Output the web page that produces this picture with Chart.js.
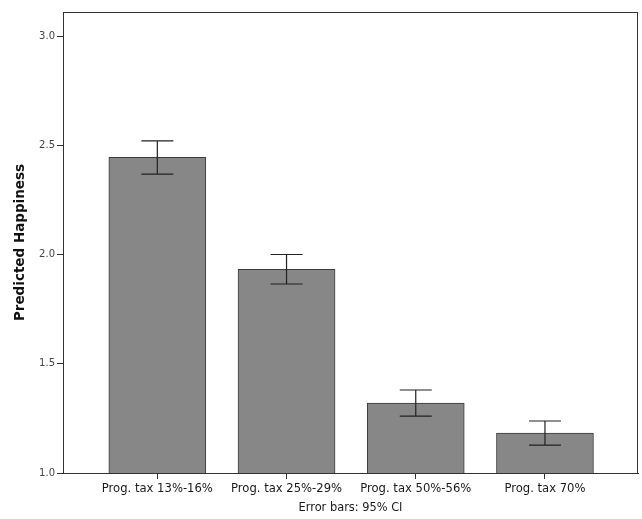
<!DOCTYPE html>
<html>
<head>
<meta charset="utf-8">
<script src="https://cdn.jsdelivr.net/npm/chart.js@4"></script>
<style>
  html, body { margin: 0; padding: 0; background: #fff; }
  #wrap { width: 642px; height: 519px; }
</style>
</head>
<body>
<div id="wrap"><canvas id="myChart" width="642" height="519"></canvas></div>
<script>
const categories = ['Prog. tax 13%-16%', 'Prog. tax 25%-29%', 'Prog. tax 50%-56%', 'Prog. tax 70%'];
const means = [2.445, 1.932, 1.32, 1.183];
const ciLow = [2.368, 1.865, 1.26, 1.128];
const ciHigh = [2.52, 2.0, 1.38, 1.238];
const yTicks = [1.0, 1.5, 2.0, 2.5, 3.0];

// frame around the plot + error bars
const extras = {
    id: 'extras',
    afterDatasetsDraw(chart) {
        const ctx = chart.ctx;
        const xs = chart.scales.x, ys = chart.scales.y;
        ctx.save();
        ctx.strokeStyle = '#222';
        ctx.lineWidth = 1.2;
        for (let i = 0; i < means.length; i++) {
            const x = xs.getPixelForValue(i);
            const y1 = ys.getPixelForValue(ciHigh[i]);
            const y2 = ys.getPixelForValue(ciLow[i]);
            ctx.beginPath();
            ctx.moveTo(x, y1); ctx.lineTo(x, y2);
            ctx.moveTo(x - 16, y1); ctx.lineTo(x + 16, y1);
            ctx.moveTo(x - 16, y2); ctx.lineTo(x + 16, y2);
            ctx.stroke();
        }
        const a = chart.chartArea;
        ctx.strokeStyle = '#333';
        ctx.lineWidth = 1;
        ctx.strokeRect(a.left + 0.5, a.top + 0.5, a.right - a.left - 1, a.bottom - a.top);
        ctx.restore();
    }
};

const ctx = document.getElementById('myChart').getContext('2d');
const myChart = new Chart(ctx, {
    type: 'bar',
    data: {
        datasets: [{
            data: means.map((v, i) => ({ x: i, y: v })),
            backgroundColor: '#878787',
            borderColor: '#3a3a3a',
            borderWidth: 1,
            barThickness: 97
        }]
    },
    options: {
        responsive: false,
        animation: false,
        layout: { padding: { top: 12, right: 4, left: 0, bottom: 0 } },
        plugins: { legend: { display: false }, tooltip: { enabled: false } },
        scales: {
            x: {
                type: 'linear',
                min: -0.73,
                max: 3.72,
                offset: false,
                afterBuildTicks: (scale) => { scale.ticks = categories.map((c, i) => ({ value: i })); },
                afterFit: (scale) => { scale.height = 46; },
                grid: { offset: false, drawOnChartArea: false, drawTicks: true, tickLength: 6, color: '#333' },
                border: { color: '#333' },
                ticks: {
                    autoSkip: false, maxRotation: 0, padding: 3,
                    color: '#1a1a1a',
                    font: { family: 'DejaVu Sans', size: 11.6 },
                    callback: (v) => categories[v]
                },
                title: {
                    display: true, text: 'Error bars: 95% CI', color: '#1a1a1a',
                    font: { family: 'DejaVu Sans', size: 11.4 },
                    padding: { top: 0, bottom: 4 }
                }
            },
            y: {
                min: 1.0,
                max: 3.11,
                afterBuildTicks: (scale) => { scale.ticks = yTicks.map(v => ({ value: v })); },
                afterFit: (scale) => { scale.width = 63; },
                grid: { drawOnChartArea: false, drawTicks: true, tickLength: 6, color: '#333' },
                border: { color: '#333' },
                ticks: {
                    padding: 2, color: '#444',
                    font: { family: 'DejaVu Sans', size: 10 },
                    callback: (v) => Number(v).toFixed(1)
                },
                title: {
                    display: true, text: 'Predicted Happiness', color: '#111',
                    font: { family: 'DejaVu Sans', size: 13.5, weight: 'bold' },
                    padding: { top: 12, bottom: 0 }
                }
            }
        }
    },
    plugins: [extras]
});
</script>
</body>
</html>
